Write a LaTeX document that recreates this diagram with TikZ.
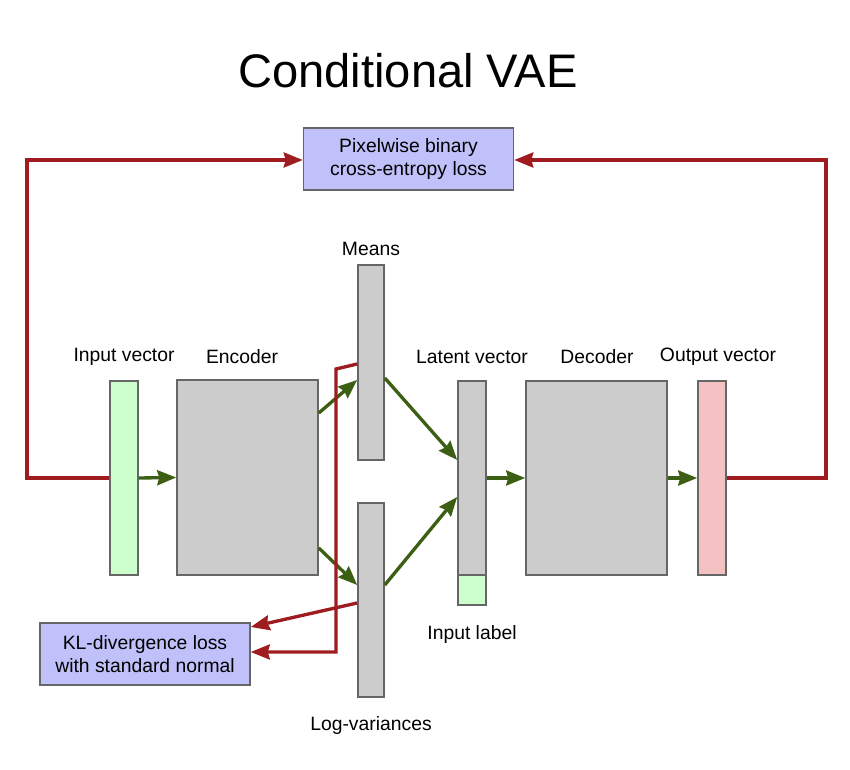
\documentclass[tikz,border=0pt]{standalone}
\usepackage{fontspec}
\setmainfont{Liberation Sans}
\usetikzlibrary{arrows.meta}
\definecolor{lossfill}{HTML}{C0C0FA}
\definecolor{layergray}{HTML}{CCCCCC}
\definecolor{inputgreen}{HTML}{CCFFCC}
\definecolor{outputpink}{HTML}{F4C2C2}
\definecolor{lossred}{HTML}{9E1B20}
\definecolor{flowgreen}{HTML}{3C5F14}
\begin{document}
\begin{tikzpicture}[x=0.02cm, y=-0.02cm, font=\fontsize{11}{13}\selectfont,
    layer/.style={draw=black!60, line width=0.9pt, fill=layergray, inner sep=0pt},
    lossbox/.style={draw=black!60, line width=0.9pt, fill=lossfill, align=center,
      minimum width=4.2cm, minimum height=1.24cm, inner sep=0pt},
    flow/.style={draw=flowgreen, line width=1.9pt, -{Stealth[length=0.38cm, width=0.3cm, inset=0.04cm]}},
    loss/.style={draw=lossred, line width=1.9pt, -{Stealth[length=0.38cm, width=0.3cm, inset=0.04cm]}}]
        \useasboundingbox (0,0) rectangle (850,770);
        \node (title) at (408,71) {\fontsize{26.8}{32}\selectfont Conditional VAE};
        \node[lossbox] (bce) at (408.5,159) {Pixelwise binary\\cross-entropy loss};
        \node[lossbox] (kl) at (145,654) {KL-divergence loss\\with standard normal};
        \node[layer, fill=inputgreen, minimum width=0.56cm, minimum height=3.88cm] (inp) at (124,478) {};
        \node[layer, minimum width=2.82cm, minimum height=3.9cm] (enc) at (247.5,477.5) {};
        \node[layer, minimum width=0.52cm, minimum height=3.9cm] (mean) at (371,362.5) {};
        \node[layer, minimum width=0.52cm, minimum height=3.88cm] (logvar) at (371,600) {};
        \node[layer, minimum width=0.56cm, minimum height=3.88cm] (lat) at (472,478) {};
        \node[layer, fill=inputgreen, minimum width=0.56cm, minimum height=0.6cm] (lab) at (472,590) {};
        \node[layer, minimum width=2.82cm, minimum height=3.88cm] (dec) at (596.5,478) {};
        \node[layer, fill=outputpink, minimum width=0.56cm, minimum height=3.88cm] (out) at (712,478) {};
        % labels
        \node (tinp) at (124,357) {Input vector};
        \node (tenc) at (242,357) {Encoder};
        \node (tmean) at (371,249) {Means};
        \node (tlat) at (472,357) {Latent vector};
        \node (tdec) at (597,357) {Decoder};
        \node (tout) at (718,357) {Output vector};
        \node (tlab) at (472,635) {Input label};
        \node (tlogvar) at (371,726) {Log-variances};
        % forward pass
        \draw[flow] (inp.east) -- (enc.west);
        \draw[flow] ([yshift=1.29cm]enc.east) -- ([yshift=-0.35cm]mean.west);
        \draw[flow] ([yshift=-1.41cm]enc.east) -- ([yshift=0.3cm]logvar.west);
        \draw[flow] ([yshift=-0.31cm]mean.east) -- ([yshift=0.36cm]lat.west);
        \draw[flow] ([yshift=0.3cm]logvar.east) -- ([yshift=-0.38cm]lat.west);
        \draw[flow] (lat.east) -- (dec.west);
        \draw[flow] (dec.east) -- (out.west);
        % losses
        \coordinate (cl) at (27,160);
        \coordinate (cr) at (826,160);
        \coordinate (bend) at (336,369);
        \draw[loss] (inp.west) -| (cl) -- ([yshift=-0.02cm]bce.west);
        \draw[loss] (out.east) -| (cr) -- ([yshift=-0.02cm]bce.east);
        \draw[loss] ([yshift=-0.06cm]logvar.west) -- ([yshift=0.54cm]kl.east);
        \draw[loss] ([yshift=-0.03cm]mean.west) -- (bend) |- ([yshift=0.04cm]kl.east);
    \end{tikzpicture}
\end{document}
